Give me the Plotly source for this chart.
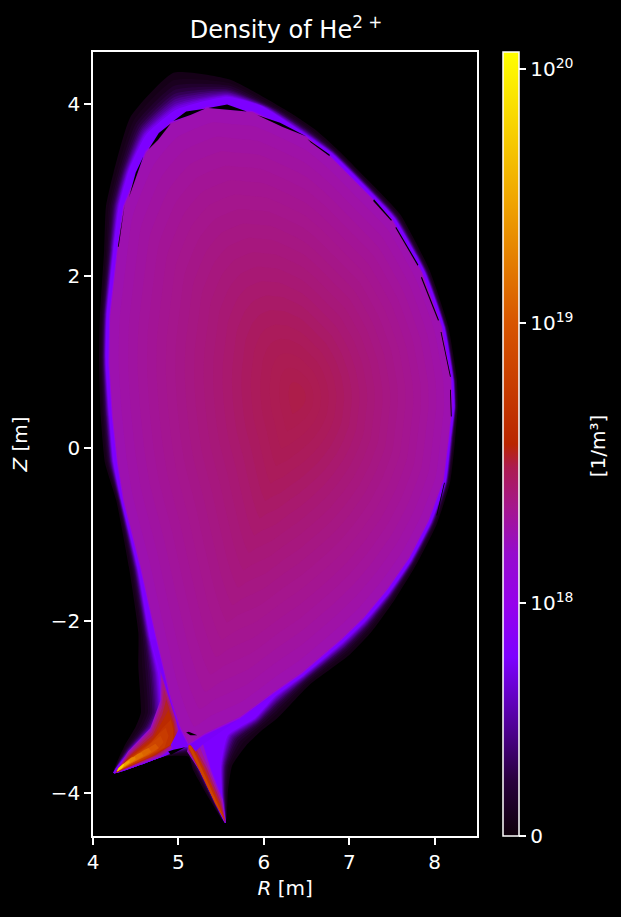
import numpy as np
import plotly.graph_objects as go
from plotly.colors import sample_colorscale

# colour bar: tick densities, their position on the bar, and colours
tick_density = [0.0, 1e18, 1e19, 1e20]
tick_position = [0.0, 0.297, 0.654, 0.978]
tick_labels = ["0", "10<sup>18</sup>", "10<sup>19</sup>", "10<sup>20</sup>"]
bar_stops = [0, .07, .14, .228, .297, .36, .42, .47, .50, .654, .81, 1]
bar_colors = ["rgb(15,0,10)", "rgb(40,0,60)", "rgb(80,0,150)", "rgb(125,0,255)",
              "rgb(150,0,235)", "rgb(150,12,205)", "rgb(165,22,140)", "rgb(172,28,80)",
              "rgb(185,38,0)", "rgb(215,85,0)", "rgb(240,165,0)", "rgb(255,255,0)"]

# outer, faint edge of the scrape-off layer
sol_R = [4.24,4.36,4.50,4.56,4.53,4.53,4.42,4.27,4.14,4.09,4.07,4.08,4.13,4.15,4.24,4.44,4.94,5.60,6.30,6.60,6.85,7.37,
         7.60,7.94,8.16,8.26,8.27,8.24,8.18,8.02,7.79,7.53,7.26,7.00,6.53,6.16,5.98,5.80,5.63,5.58,5.55,5.17,5.12,4.81]
sol_Z = [-3.77,-3.47,-3.23,-3.07,-2.54,-2.14,-1.38,-.60,-.17,.37,.99,1.53,2.31,2.80,3.20,3.85,4.36,4.28,3.90,3.70,3.48,2.96,
         2.71,2.07,1.41,.80,.48,.10,-.40,-.89,-1.34,-1.76,-2.13,-2.40,-2.75,-3.13,-3.27,-3.44,-3.68,-3.97,-4.35,-3.73,-3.58,-3.58]
# bright violet contour of the scrape-off layer
sep_R = [4.24,4.41,4.71,4.79,4.76,4.67,4.52,4.33,4.24,4.19,4.15,4.16,4.24,4.30,4.42,4.62,4.97,5.57,5.98,6.42,6.80,7.30,
         7.53,7.88,8.11,8.215,8.23,8.185,8.13,7.96,7.73,7.47,7.20,6.94,6.47,6.13,5.90,5.58,5.50,5.51,5.55,5.14,5.09,4.81]
sep_Z = [-3.77,-3.54,-3.23,-3.07,-2.61,-2.22,-1.38,-.60,-.17,.37,.99,1.53,2.31,2.80,3.23,3.64,3.93,4.08,3.97,3.69,3.42,2.92,
         2.67,2.05,1.41,.80,.48,.10,-.38,-.85,-1.29,-1.67,-1.99,-2.24,-2.63,-2.88,-3.13,-3.33,-3.68,-4.03,-4.35,-3.48,-3.46,-3.58]
halo_position = [0, .2, .35, .47, .57, .65, .72, .78, .84, .89, .94, 1]
halo_density = [.06e18, .1e18, .17e18, .24e18, .3e18, .37e18, .44e18, .5e18, .57e18, .64e18, .7e18, .77e18]

# left divertor leg contours
leg_R = [[4.26,4.41,4.67,4.79,4.79,4.98,5.03,4.79],
         [4.27,4.42,4.69,4.81,4.83,4.95,5.00,4.77],
         [4.27,4.44,4.71,4.81,4.91,4.94,4.93,4.67],
         [4.28,4.37,4.53,4.67,4.73,4.77,4.65,4.47],
         [4.28,4.31,4.38,4.45,4.49,4.50,4.42,4.35],
         [4.28,4.29,4.31,4.34,4.36,4.36,4.34,4.31]]
leg_Z = [[-3.77,-3.52,-3.25,-2.92,-2.55,-3.10,-3.41,-3.58],
         [-3.76,-3.56,-3.30,-3.01,-2.80,-3.13,-3.39,-3.55],
         [-3.76,-3.58,-3.39,-3.25,-3.15,-3.27,-3.43,-3.58],
         [-3.75,-3.66,-3.55,-3.46,-3.43,-3.48,-3.56,-3.64],
         [-3.75,-3.70,-3.64,-3.59,-3.58,-3.61,-3.66,-3.71],
         [-3.75,-3.72,-3.70,-3.68,-3.66,-3.68,-3.71,-3.73]]
leg_position = [0, .33, .67, 1, 1.33, 1.67, 2, 2.33, 2.67, 3, 3.33, 3.67, 4, 4.5, 5]
leg_density = [1.6e18, 2.0e18, 2.4e18, 2.9e18, 3.4e18, 4e18, 4.8e18, 5.8e18, 7e18, 1e19, 1.25e19, 1.5e19, 2e19, 3e19, 6e19]

# right divertor leg contours
rleg_R = [[5.12,5.28,5.38,5.52,5.55,5.43,5.24,5.10],
          [5.12,5.19,5.33,5.50,5.55,5.43,5.26,5.12],
          [5.12,5.15,5.27,5.47,5.55,5.43,5.26,5.12]]
rleg_Z = [[-3.44,-3.41,-3.73,-4.08,-4.35,-4.11,-3.73,-3.52],
          [-3.44,-3.46,-3.71,-4.11,-4.34,-4.12,-3.76,-3.50],
          [-3.44,-3.46,-3.71,-4.14,-4.33,-4.12,-3.76,-3.47]]
rleg_position = [0, .5, 1, 1.5, 2]
rleg_density = [1.5e18, 2.1e18, 3e18, 4.6e18, 7e18]

# violet band round the X-point
star_R = [4.67,4.73,5.00,5.12,5.43,6.07,6.07,5.43,5.28,5.20,5.14,4.93,4.91,5.00,4.97]
star_Z = [-2.22,-2.22,-3.11,-3.21,-3.21,-2.80,-2.89,-3.33,-3.44,-3.52,-3.44,-3.50,-3.44,-3.27,-3.15]
star_density = .75e18

# core boundary
core_R = [5.12,5.02,4.91,4.73,4.56,4.36,4.29,4.23,4.19,4.20,4.29,4.36,4.62,4.91,5.34,5.57,5.87,6.50,6.77,7.27,
          7.50,7.85,8.08,8.19,8.20,8.16,8.10,7.93,7.70,7.44,7.17,6.91,6.45,6.10,5.72,5.31]
core_Z = [-3.43,-3.23,-2.89,-2.14,-1.38,-.60,-.17,.37,.99,1.53,2.31,2.80,3.43,3.77,3.95,3.93,3.90,3.61,3.39,2.89,
          2.65,2.04,1.41,.80,.48,.10,-.37,-.83,-1.27,-1.64,-1.96,-2.21,-2.60,-2.84,-3.12,-3.31]
core_center = (6.4, 0.6)
core_scale = [1.005,1.0,.95,.9,.85,.8,.75,.7,.65,.6,.55,.5,.45,.4,.35,.3,.25,.2,.15,.1,.05]
core_density = [1.2e18,1.8e18,1.88e18,1.95e18,2.02e18,2.08e18,2.14e18,2.2e18,2.26e18,2.32e18,2.38e18,
                2.45e18,2.52e18,2.6e18,2.7e18,2.8e18,2.88e18,2.95e18,3.0e18,3.05e18,3.1e18]

# black gaps between the mesh cells along the core boundary
gap_R = [[5.35,5.57,5.80,5.57],[4.94,5.09,5.31,5.14],[4.65,4.77,4.91,4.76],[4.42,4.50,4.59,4.52],
         [4.29,4.36,4.37,4.30],[5.92,6.19,6.50,6.22],[6.51,6.77,6.77,6.55],[7.29,7.50,7.49,7.28],
         [7.55,7.81,7.80,7.54],[7.85,8.05,8.04,7.84],[8.08,8.19,8.18,8.07],[8.19,8.20,8.19,8.18],
         [8.12,8.03,8.02,8.11],[4.26,4.22,4.215,4.255],[4.20,4.20,4.195,4.195],[7.91,7.72,7.715,7.905],[7.42,7.19,7.185,7.415],
         [5.12,5.22,5.14,5.09],[4.94,5.08,4.91,4.88]]
gap_Z = [[3.95,3.99,3.91,3.93],[3.80,3.91,3.94,3.87],[3.47,3.66,3.77,3.58],[2.91,3.20,3.39,3.20],
         [2.34,2.80,2.83,2.34],[3.87,3.78,3.62,3.73],[3.59,3.41,3.39,3.55],[2.89,2.65,2.64,2.87],
         [2.57,2.13,2.12,2.56],[1.99,1.49,1.48,1.98],[1.35,.83,.83,1.35],[.68,.37,.37,.68],
         [-.4,-.78,-.78,-.4],[2.07,1.64,1.64,2.07],[1.46,1.14,1.14,1.46],[-.87,-1.24,-1.24,-.87],[-1.67,-1.93,-1.93,-1.67],
         [-3.29,-3.33,-3.33,-3.30],[-3.50,-3.47,-3.56,-3.52]]

colorscale = [[s, c] for s, c in zip(bar_stops, bar_colors)]


def bar_position(n):
    if n <= 1e18:
        return 0.297 * n / 1e18
    return float(np.interp(np.log10(n), [18, 19, 20], tick_position[1:]))


def patch(R, Z, n, smooth=False):
    line = dict(width=0)
    if smooth:
        line.update(shape="spline", smoothing=0.5)
    return go.Scatter(x=list(R) + [R[0]], y=list(Z) + [Z[0]], mode="lines", fill="toself",
                      line=line, fillcolor=sample_colorscale(colorscale, [bar_position(n)])[0],
                      hoverinfo="skip", showlegend=False)


def band(Rs, Zs, pos):
    i = min(int(pos), len(Rs) - 2)
    f = pos - i
    return (np.array(Rs[i]) * (1 - f) + np.array(Rs[i + 1]) * f,
            np.array(Zs[i]) * (1 - f) + np.array(Zs[i + 1]) * f)


fig = go.Figure()
for p, n in zip(halo_position, halo_density):
    R, Z = band([sol_R, sep_R], [sol_Z, sep_Z], p)
    fig.add_trace(patch(R, Z, n, smooth=True))
for p, n in zip(leg_position, leg_density):
    R, Z = band(leg_R, leg_Z, p)
    fig.add_trace(patch(R, Z, n))
for p, n in zip(rleg_position, rleg_density):
    R, Z = band(rleg_R, rleg_Z, p)
    fig.add_trace(patch(R, Z, n))
fig.add_trace(patch(star_R, star_Z, star_density))
for s, n in zip(core_scale, core_density):
    R = core_center[0] + s * (np.array(core_R) - core_center[0])
    Z = core_center[1] + s * (np.array(core_Z) - core_center[1])
    fig.add_trace(patch(R, Z, n, smooth=s < 0.99))
for gr, gz in zip(gap_R, gap_Z):
    fig.add_trace(go.Scatter(x=gr + [gr[0]], y=gz + [gz[0]], mode="lines", fill="toself",
                             line=dict(width=0, color="black"), fillcolor="black",
                             hoverinfo="skip", showlegend=False))

# colour bar
fig.add_trace(go.Scatter(
    x=[None, None], y=[None, None], mode="markers", showlegend=False, hoverinfo="skip",
    marker=dict(color=[0, 1], cmin=0, cmax=1, colorscale=colorscale, showscale=True,
                colorbar=dict(
                    x=502 / 621, xanchor="left", xpad=0, y=(917 - 836) / 917, yanchor="bottom", ypad=0,
                    lenmode="pixels", len=784, thicknessmode="pixels", thickness=16,
                    tickmode="array", tickvals=tick_position, ticktext=tick_labels,
                    ticks="outside", ticklen=7, tickwidth=1.5, tickcolor="white",
                    tickfont=dict(family="DejaVu Sans", size=20, color="white"),
                    outlinecolor="white", outlinewidth=1.5, bgcolor="black"))))

axis = dict(showgrid=False, zeroline=False, showline=True, mirror=True, linecolor="white", linewidth=1.5,
            ticks="outside", ticklen=7, tickwidth=1.5, tickcolor="white", color="white",
            tickfont=dict(family="DejaVu Sans", size=20, color="white"))
fig.update_layout(
    width=621, height=917, autosize=False, margin=dict(l=0, r=0, t=0, b=0),
    paper_bgcolor="black", plot_bgcolor="black",
    font=dict(family="DejaVu Sans", color="white"),
    title=dict(text="Density of He<sup>2 +</sup>", x=286 / 621, xanchor="center", y=1 - 30 / 917, yanchor="middle",
               font=dict(family="DejaVu Sans", size=24, color="white")),
    xaxis=dict(axis, domain=[.1416, .7664], range=[4, 8.5], tickvals=[4, 5, 6, 7, 8],
               title=dict(text="<i>R</i> [m]", standoff=8, font=dict(size=20, color="white"))),
    yaxis=dict(axis, domain=[(917 - 836) / 917, (917 - 52) / 917], range=[-4.5, 4.6],
               tickvals=[-4, -2, 0, 2, 4], ticktext=["−4", "−2", "0", "2", "4"],
               title=dict(text="<i>Z</i> [m]", standoff=18, font=dict(size=20, color="white"))),
    annotations=[dict(text="[1/m³]", xref="paper", yref="paper", x=598 / 621, y=1 - 446 / 917,
                      xanchor="center", yanchor="middle", textangle=-90, showarrow=False,
                      font=dict(family="DejaVu Sans", size=20, color="white"))],
)
fig.write_html("out.html", config={"displayModeBar": False},
               post_script="document.documentElement.style.background='black';document.body.style.margin='0';document.body.style.background='black';")
